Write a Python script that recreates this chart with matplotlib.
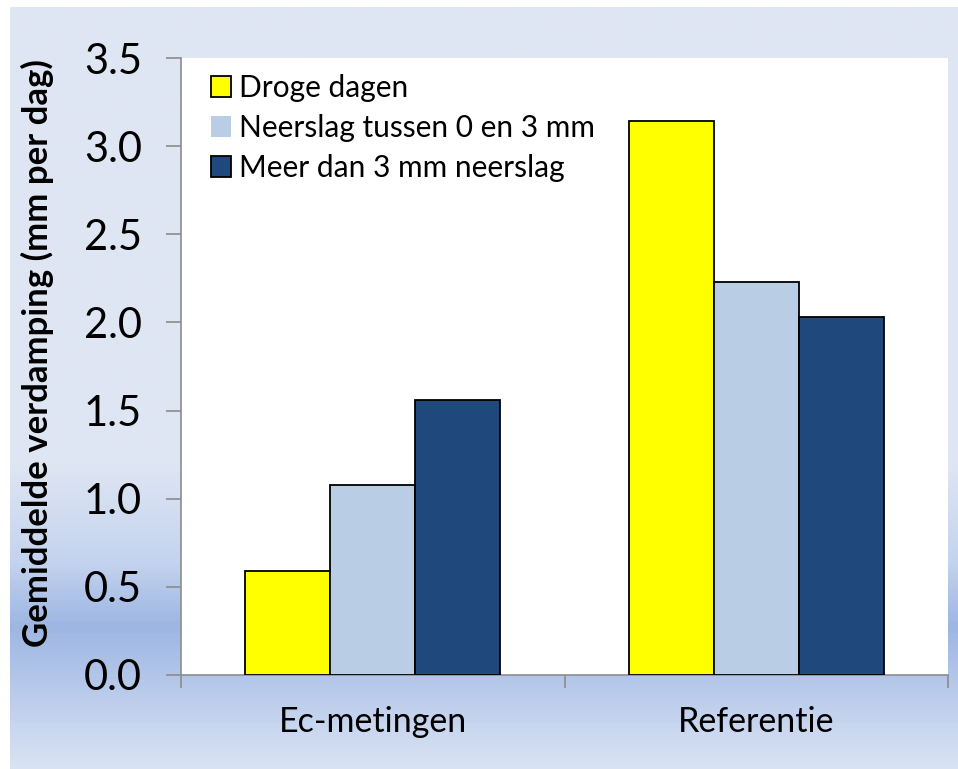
import matplotlib
matplotlib.use("Agg")
import matplotlib.pyplot as plt
import numpy as np
from matplotlib.colors import LinearSegmentedColormap
from matplotlib.patches import Patch

plt.rcParams['font.family'] = ['Lato', 'DejaVu Sans']

categories = ["Ec-metingen", "Referentie"]
series_names = ["Droge dagen", "Neerslag tussen 0 en 3 mm", "Meer dan 3 mm neerslag"]
droge = [0.59, 3.14]
tussen = [1.08, 2.23]
meer = [1.56, 2.03]
values = [droge, tussen, meer]
colors = ["#ffff00", "#b9cde5", "#1f497d"]
yticks = [0.0, 0.5, 1.0, 1.5, 2.0, 2.5, 3.0, 3.5]

W, H = 958, 769
fig = plt.figure(figsize=(W / 100, H / 100), dpi=100)
fig.patch.set_facecolor("white")

# background gradient panel
bg = fig.add_axes([10 / W, 0, 948 / W, 762 / H], zorder=-10)
cmap = LinearSegmentedColormap.from_list(
    "bg",
    [(0.0, "#dfe6f3"), (0.60, "#dfe6f3"), (0.73, "#c4d3ee"), (0.815, "#9db6e2"),
     (0.90, "#b9cbeb"), (1.0, "#d9e2f3")])
grad = np.linspace(0, 1, 400).reshape(-1, 1)
bg.imshow(grad, aspect="auto", cmap=cmap, extent=[0, 1, 1, 0])
bg.axis("off")

ax = fig.add_axes([181 / W, 1 - 675 / H, 767 / W, 617 / H])
ax.set_facecolor("white")

x = np.arange(len(categories))
bw = 0.222
for i, (vals, c) in enumerate(zip(values, colors)):
    ax.bar(x + (i - 1) * bw, vals, width=bw, color=c, edgecolor="black",
           linewidth=1.3, zorder=3)

ax.set_xlim(-0.5, 1.5)
ax.set_ylim(0, 3.5)
ax.set_yticks(yticks)
ax.set_yticklabels([f"{t:.1f}" for t in yticks])
ax.set_xticks(x)
ax.set_xticklabels(categories)
ax.set_xticks([-0.5, 0.5, 1.5], minor=True)

for s in ["top", "right"]:
    ax.spines[s].set_visible(False)
for s in ["left", "bottom"]:
    ax.spines[s].set_color("#8c8c8c")
    ax.spines[s].set_linewidth(1.2)

ax.tick_params(axis="y", length=11, width=1.2, color="#8c8c8c", pad=17,
               labelsize=30, direction="out")
ax.tick_params(axis="x", which="major", length=0, pad=22, labelsize=24.5)
ax.tick_params(axis="x", which="minor", length=9, width=1.2, color="#8c8c8c",
               direction="out")

ax.set_ylabel("Gemiddelde verdamping (mm per dag)", fontsize=25,
              fontweight="bold")
ax.yaxis.set_label_coords(-0.166, 0.522)

handles = [Patch(facecolor=colors[0], edgecolor="black", linewidth=1.3),
           Patch(facecolor=colors[1], edgecolor="none"),
           Patch(facecolor=colors[2], edgecolor="black", linewidth=1.3)]
leg = ax.legend(handles, series_names, loc="upper left", frameon=False,
                fontsize=21.5, handlelength=0.67, handleheight=0.67,
                handletextpad=0.27, labelspacing=0.4,
                bbox_to_anchor=(0.016, 1.003), borderaxespad=0.2)

fig.savefig("out.png", dpi=100)
